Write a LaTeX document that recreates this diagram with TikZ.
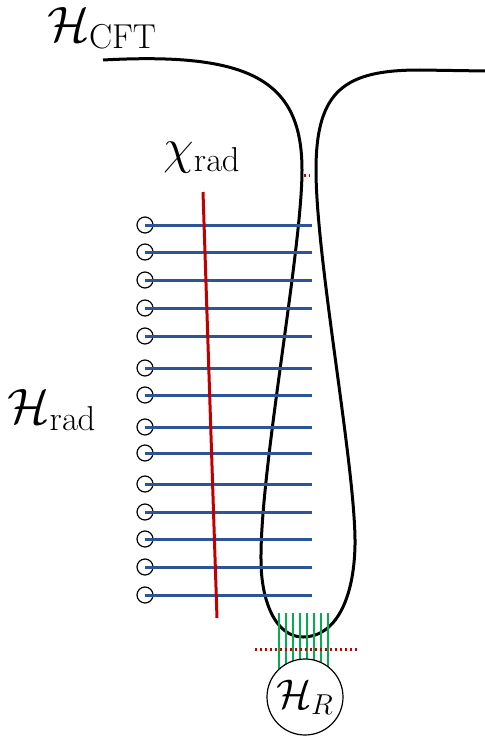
\documentclass[tikz,border=0pt]{standalone}
\usepackage{amsmath}
\begin{document}
\begin{tikzpicture}[
 x=.5pt,y=-.5pt,
 wall/.style={line width=1.5pt},
 ray/.style={line width=1.5pt,color=radblue},
 slice/.style={line width=1.5pt,color=slicered},
 fibre/.style={line width=1pt,color=fibregreen},
 cut/.style={line width=1.5pt,color=slicered,dash pattern=on 1.2pt off 1.3pt},
 qubit/.style={circle,draw,line width=.6pt,minimum size=8pt,inner sep=0pt},
 label/.style={inner sep=0pt,font=\fontsize{25}{30}\selectfont}]
 \definecolor{radblue}{RGB}{47,84,150}
 \definecolor{slicered}{RGB}{192,0,0}
 \definecolor{fibregreen}{RGB}{0,176,80}
 \useasboundingbox (0,0) rectangle (485,738);
 % Boundary with the long throat down to the remnant.
 \draw[wall] (103,60)..controls(250,52)and(302,80)..(302,170)
   ..controls(302,250)and(260,470)..(261,560)
   ..controls(261,600)and(275,637)..(303,637)
   ..controls(335,637)and(354,600)..(355,545)
   ..controls(356,470)and(316,260)..(316,170)
   ..controls(316,90)and(345,70)..(420,70)--(485,71);
 \draw[cut] (304,175)--(310,175);
 % Radiation qubits.
 \foreach \y [count=\i] in {225,252,280,308,336,368,395,427,453,484,512,539,567,595}{
   \node[qubit] (q\i) at (145,\y){};
   \coordinate (r\i) at (312,\y);
   \draw[ray] (q\i.center)--(r\i);
 }
 % Nice slice through the radiation.
 \coordinate (chiTop) at (203,192); \coordinate (chiBot) at (217,618);
 \draw[slice] (chiTop)--(chiBot);
 \node[label,font=\fontsize{26}{30}\selectfont] (chi) at (202,158){$\chi_{\mathrm{rad}}$};
 % Remnant Hilbert space.
 \foreach \x [count=\i] in {279,286,293,300,307,314,321,328}{
   \coordinate (g\i) at (\x,613);
   \draw[fibre] (g\i)--(\x,697);
 }
 \draw[cut] (255,649)--(358,649);
 \node[circle,draw,fill=white,line width=.6pt,minimum size=38pt,inner sep=0pt,
   font=\fontsize{22}{26}\selectfont] (HR) at (305,697){$\mathcal{H}_R$};
 \node[label,font=\fontsize{27}{32}\selectfont] (Hcft) at (102,28){$\mathcal{H}_{\mathrm{CFT}}$};
 \node[label] (Hrad) at (52,410){$\mathcal{H}_{\mathrm{rad}}$};
\end{tikzpicture}
\end{document}
